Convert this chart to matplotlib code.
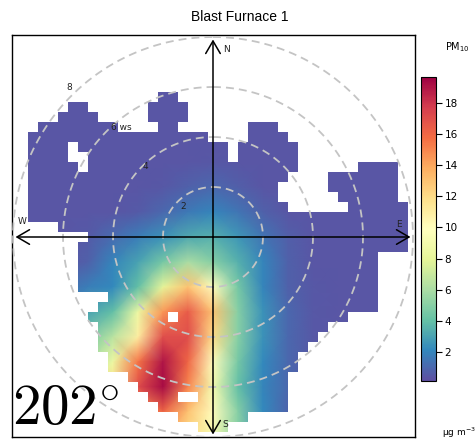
import numpy as np
import matplotlib.pyplot as plt
from matplotlib.colors import ListedColormap

# PM10 (ug m-3) on a 1 ws-unit lattice, x = -8..8 (columns), y = 8..-8 (rows)
grid_ws = np.arange(-8, 9)
pm10_rows = [
    [.4, .4, .4, .4, .4, .4, .4, .4, .4, .4, .4, .4, .4, .4, .4, .4, .4],
    [.4, .4, .4, .4, .4, .4, .4, .4, .4, .4, .4, .4, .4, .4, .4, .4, .4],
    [.4, .4, .4, .4, .4, .4, .4, .4, .4, .4, .4, .4, .4, .4, .4, .4, .4],
    [.4, .4, .4, .4, .4, .4, .4, .4, .4, .4, .4, .4, .4, .4, .4, .4, .4],
    [.4, .4, .4, .4, .4, .4, .4, .4, .4, .4, .4, .4, .4, .4, .4, .4, .4],
    [.4, .4, .4, .4, .4, .4, .4, .4, .5, .4, .4, .4, .4, .4, .4, .4, .4],
    [.4, .4, .4, .4, .4, .4, .5, .8, 1.0, .7, .4, .4, .4, .4, .4, .4, .4],
    [.4, .4, .4, .4, .4, .6, 1.0, 1.6, 2.0, 1.5, .8, .4, .4, .4, .4, .4, .4],
    [.4, .4, .4, .6, 1.2, 1.8, 2.5, 3.2, 3.5, 2.6, 1.5, .7, .4, .4, .4, .4, .4],
    [.4, .4, .4, .8, 2.0, 3.0, 4.5, 6.0, 5.0, 3.5, 2.0, .8, .4, .4, .4, .4, .4],
    [.4, .6, 1.2, 1.8, 2.2, 4.0, 8.0, 13, 10, 4.5, 2.0, .8, .5, .4, .4, .4, .4],
    [.6, 1.2, 2.0, 3.0, 4.0, 8.5, 14.5, 16.5, 13, 5.0, 2.5, 1.0, .5, .4, .4, .4, .4],
    [1.0, 2.0, 3.0, 4.5, 6.5, 11, 17, 17, 12, 5.0, 2.5, 1.0, .5, .4, .4, .4, .4],
    [2.0, 3.0, 4.5, 6.0, 8.5, 15.5, 19, 16, 10, 4.5, 2.2, 1.0, .5, .4, .4, .4, .4],
    [3.0, 4.0, 6.0, 8.0, 12, 17, 19.3, 15, 9.0, 4.0, 2.0, 1.0, .5, .4, .4, .4, .4],
    [4.0, 5.0, 7.0, 8.0, 11, 14, 16, 13, 10, 5.0, 2.2, .9, .5, .4, .4, .4, .4],
    [5.0, 6.0, 8.0, 9.0, 11, 12, 14, 12, 9.0, 5.0, 2.0, .8, .5, .4, .4, .4, .4],
]

# cells holding data on a 0.4 ws-unit lattice: runs of column indices per row, top to bottom
cell = 0.4
coverage_runs = [
    [], [], [], [], [], [],
    [(15, 16)],
    [(6, 7), (14, 17)],
    [(5, 8), (14, 17)],
    [(3, 10), (15, 16), (24, 26)],
    [(2, 19), (24, 27)],
    [(2, 5), (7, 21), (23, 28)],
    [(2, 5), (8, 21), (23, 28)],
    [(2, 6), (8, 28), (35, 38)],
    [(2, 27), (32, 38)],
    [(2, 26), (32, 38)],
    [(2, 26), (33, 38)],
    [(2, 27), (34, 39)],
    [(2, 39)],
    [(5, 39)],
    [(8, 39)],
    [(7, 39)],
    [(7, 36)],
    [(7, 36)],
    [(7, 36)],
    [(7, 36)],
    [(10, 36)],
    [(9, 36)],
    [(8, 15), (17, 33)],
    [(9, 31)],
    [(9, 30)],
    [(9, 29)],
    [(10, 28)],
    [(10, 28)],
    [(12, 27)],
    [(13, 27)],
    [(14, 16), (19, 27)],
    [(15, 27)],
    [(17, 23)],
    [(19, 21)],
    [],
]

rings = [2, 4, 6, 8]
compass = ["N", "E", "S", "W"]
vmin, vmax = 0.15, 19.65

fig = plt.figure(figsize=(4.77, 4.41), dpi=100)
ax = fig.add_axes([12 / 477, 4 / 441, 403 / 477, 402 / 441])

X, Y = np.meshgrid(grid_ws, grid_ws[::-1])
C = np.array(pm10_rows)
mesh = ax.pcolormesh(X, Y, C, shading="gouraud", cmap="Spectral_r",
                     vmin=vmin, vmax=vmax, zorder=1)

# blank out the cells without data
n = len(coverage_runs)
covered = np.zeros((n, n), dtype=bool)
for j, runs in enumerate(coverage_runs):
    for a, b in runs:
        covered[j, a:b + 1] = True
edges_x = -8.2 + cell * np.arange(n + 1)
edges_y = 8.2 - cell * np.arange(n + 1)
blank = np.ma.masked_where(covered, np.ones((n, n)))
ax.pcolormesh(edges_x, edges_y, blank, cmap=ListedColormap(["white"]),
              shading="flat", zorder=2)

# dashed speed rings
th = np.linspace(0, 2 * np.pi, 400)
for r in rings:
    ax.plot(r * np.sin(th), r * np.cos(th), color="#c4c4c4", lw=1.3,
            linestyle=(0, (4.4, 2.8)), zorder=3)

# ring labels along the north-west diagonal
ang = np.deg2rad(316)
for r in rings:
    rr = 1.1 * r - 0.5
    lab = "6 ws" if r == 6 else str(r)
    ax.text(rr * np.sin(ang) + (0.55 if r == 6 else 0), rr * np.cos(ang), lab,
            fontsize=6.5, ha="center", va="center", color="#222222", zorder=5)

# compass arrows
arm = 7.9
for name, (dx, dy) in zip(compass, [(0, 1), (1, 0), (0, -1), (-1, 0)]):
    ax.annotate("", xy=(dx * arm, dy * arm), xytext=(0, 0),
                arrowprops=dict(arrowstyle="->,head_length=0.6,head_width=0.35",
                                lw=1.1, color="black", mutation_scale=15,
                                shrinkA=0, shrinkB=0), zorder=4)
    tx = {"N": (0.55, 7.5), "E": (7.45, 0.5), "S": (0.5, -7.5), "W": (-7.65, 0.6)}[name]
    ax.text(tx[0], tx[1], name, fontsize=6.5, ha="center", va="center",
            color="#222222", zorder=5)

ax.set_xlim(-8.04, 8.08)
ax.set_ylim(-8.0, 8.08)
ax.set_xticks([])
ax.set_yticks([])
for s in ax.spines.values():
    s.set_linewidth(1.0)

# colour key
cax = fig.add_axes([421 / 477, 60 / 441, 15 / 477, 304 / 441])
cb = fig.colorbar(mesh, cax=cax, ticks=range(2, 19, 2))
cb.outline.set_linewidth(0.8)
cax.tick_params(labelsize=7.5, length=4, width=0.8, pad=2)

fig.text(240 / 477, 1 - 17 / 441, "Blast Furnace 1", ha="center", va="center",
         fontsize=10, family="Liberation Sans")
fig.text(457 / 477, 1 - 47 / 441, r"PM$_{10}$", ha="center", va="center", fontsize=7)
fig.text(442 / 477, 1 - 433 / 441, "\u00b5g m$^{-3}$", ha="left", va="center", fontsize=6.5)
fig.text(12 / 477, 1 - 425 / 441, r"$202^{\circ}$", ha="left", va="baseline",
         fontsize=41, math_fontfamily="cm")

fig.savefig("out.png", dpi=100)
